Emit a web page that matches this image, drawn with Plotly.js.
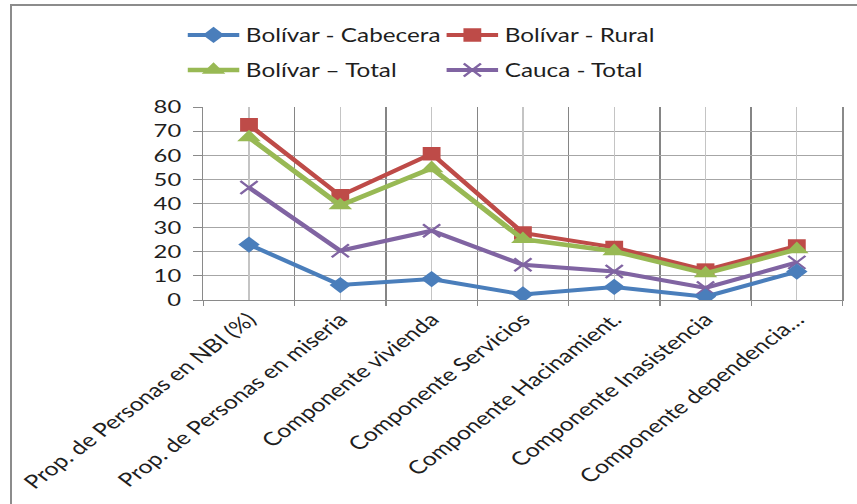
<!DOCTYPE html>
<html>
<head>
<meta charset="utf-8">
<script src="https://cdn.plot.ly/plotly-3.0.1.min.js"></script>
<style>
  html, body { margin: 0; padding: 0; background: #ffffff; }
  #wrap { position: absolute; left: 0; top: 0; width: 857px; height: 504px; overflow: hidden; background: #ffffff; }
  #chart { position: absolute; left: 0; top: 0; width: 649px; height: 504px; transform: scaleX(1.3205); transform-origin: 0 0; }
  #frame { position: absolute; left: 10px; top: 4px; width: 860px; height: 520px; border-top: 2px solid #8c8c8c; border-left: 2px solid #8c8c8c; pointer-events: none; z-index: 5; }
</style>
</head>
<body>
<div id="wrap">
  <div id="chart"></div>
  <div id="frame"></div>
</div>
<script>
const categories = [
  "Prop. de Personas en NBI (%)",
  "Prop. de Personas en miseria",
  "Componente vivienda",
  "Componente Servicios",
  "Componente Hacinamient.",
  "Componente Inasistencia",
  "Componente dependencia…"
];
const bolivarCabecera = [23.0, 6.2, 8.7, 2.3, 5.4, 1.4, 11.8];
const bolivarRural    = [72.6, 43.2, 60.6, 27.8, 21.8, 12.4, 22.4];
const bolivarTotal    = [67.4, 39.2, 54.6, 25.2, 20.2, 11.0, 21.0];
const caucaTotal      = [46.6, 20.4, 28.7, 14.6, 11.8, 5.0, 15.6];
const yTicks = [0, 10, 20, 30, 40, 50, 60, 70, 80];

const FONT = "Lato, 'Open Sans', sans-serif";
const TXT = "#1e1e1e";

const traces = [
  { // helper trace so the centre gridlines (xaxis2) are drawn
    x: categories, y: bolivarCabecera, xaxis: "x2", yaxis: "y",
    mode: "none", type: "scatter", showlegend: false, hoverinfo: "skip"
  },
  {
    name: "Cauca - Total", x: categories, y: caucaTotal, type: "scatter", mode: "lines+markers",
    line: { color: "#8064a2", width: 4 },
    marker: { symbol: "x-thin", size: 13, color: "#8064a2", line: { color: "#8064a2", width: 2 } },
    legend: "legend2"
  },
  {
    name: "Bolívar - Cabecera", x: categories, y: bolivarCabecera, type: "scatter", mode: "lines+markers",
    line: { color: "#4a7ebb", width: 4 },
    marker: { symbol: "diamond", size: 12.5, color: "#4a7ebb" },
    legend: "legend"
  },
  {
    name: "Bolívar - Rural", x: categories, y: bolivarRural, type: "scatter", mode: "lines+markers",
    line: { color: "#be4b48", width: 4 },
    marker: { symbol: "square", size: 13.5, color: "#be4b48" },
    legend: "legend"
  },
  {
    name: "Bolívar – Total", x: categories, y: bolivarTotal, type: "scatter", mode: "lines+markers",
    line: { color: "#98b954", width: 4.5 },
    marker: { symbol: "triangle-up", size: 15.5, color: "#98b954" },
    legend: "legend2"
  }
];

const legendCommon = {
  orientation: "h", xref: "container", yref: "container",
  x: 0.2114, xanchor: "left", yanchor: "middle",
  font: { family: FONT, size: 18.4, color: TXT },
  bgcolor: "rgba(0,0,0,0)",
  entrywidth: 142, entrywidthmode: "pixels", itemwidth: 39
};

const layout = {
  width: 649, height: 504,
  margin: { l: 154, r: 11, t: 107, b: 204 },
  paper_bgcolor: "rgba(0,0,0,0)",
  plot_bgcolor: "#ffffff",
  font: { family: FONT, size: 18, color: TXT },
  showlegend: true,
  legend: Object.assign({}, legendCommon, { y: 1 - 35 / 504, traceorder: "normal" }),
  legend2: Object.assign({}, legendCommon, { y: 1 - 70 / 504, traceorder: "reversed" }),
  xaxis: {
    type: "category", categoryarray: categories, categoryorder: "array",
    range: [-0.5, 6.5], tickson: "boundaries",
    showgrid: true, gridcolor: "#858585", gridwidth: 1.1,
    showline: true, linecolor: "#8a8a8a", linewidth: 1.2,
    ticks: "outside", ticklen: 5, tickcolor: "#8a8a8a",
    tickangle: -45, tickfont: { family: FONT, size: 18.8, color: TXT },
    zeroline: false, fixedrange: true
  },
  xaxis2: {
    type: "category", categoryarray: categories, categoryorder: "array",
    overlaying: "x", anchor: "y",
    range: [-0.5, 6.5],
    showgrid: true, gridcolor: "#c4c4c4", gridwidth: 1,
    showticklabels: false, ticks: "", showline: false, zeroline: false, fixedrange: true
  },
  yaxis: {
    range: [0, 80], tickvals: yTicks, ticktext: yTicks.map(String),
    showgrid: true, gridcolor: "#a6a6a6", gridwidth: 1,
    showline: true, mirror: true, linecolor: "#8a8a8a", linewidth: 1.2,
    ticks: "outside", ticklen: 7, tickcolor: "#8a8a8a",
    ticklabelstandoff: 5,
    tickfont: { family: FONT, size: 18, color: TXT },
    zeroline: false, fixedrange: true
  }
};

Plotly.newPlot("chart", traces, layout, { displayModeBar: false, staticPlot: true });
</script>
</body>
</html>
